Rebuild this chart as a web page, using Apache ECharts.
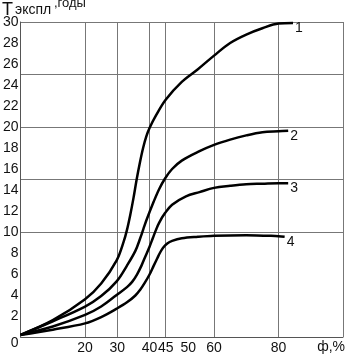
<!DOCTYPE html>
<html>
<head>
<meta charset="utf-8">
<script src="https://cdn.jsdelivr.net/npm/echarts@6/dist/echarts.min.js"></script>
<style>
  html, body { margin: 0; padding: 0; background: #fff; }
  #chart { width: 347px; height: 357px; }
</style>
</head>
<body>
<div id="chart"></div>
<script>
// Service life T (years) against porosity φ (%), curves 1–4
const curve1Phi = [0, 10, 20, 25, 29.8, 32, 33, 34, 35, 36, 37, 38, 39, 40, 42, 45, 50, 55, 60, 65, 70, 75, 80, 84.5];
const curve1T   = [0.2, 1.6, 3.6, 5.1, 7.3, 9.1, 10.2, 11.6, 13.2, 15.0, 16.6, 18.0, 19.1, 19.9, 21.1, 22.6, 24.3, 25.5, 26.8, 28.0, 28.8, 29.4, 29.85, 29.9];

const curve2Phi = [0, 10, 20, 25, 29.8, 33, 35.6, 37.1, 38.1, 39, 41.3, 43, 44.8, 47, 50, 55.5, 60, 65, 70, 75, 80, 83];
const curve2T   = [0.2, 1.5, 2.9, 3.9, 5.3, 6.8, 8.2, 9.4, 10.3, 11.1, 12.9, 14.1, 15.1, 16.0, 16.8, 17.7, 18.3, 18.8, 19.2, 19.5, 19.6, 19.65];

const curve3Phi = [0, 10, 20, 25, 29.8, 33, 34.6, 36.1, 37.5, 38.6, 40, 41, 42, 43, 44.8, 47, 51.3, 55.5, 60, 65, 70, 75, 80, 83];
const curve3T   = [0.2, 1.0, 2.1, 2.9, 4.0, 4.75, 5.25, 5.95, 6.8, 7.6, 8.6, 9.4, 10.2, 10.9, 11.8, 12.6, 13.4, 13.8, 14.2, 14.4, 14.55, 14.6, 14.65, 14.65];

const curve4Phi = [0, 10, 20, 25, 29.8, 33, 35.6, 37.1, 38.5, 40, 41.3, 42.4, 43.2, 44.2, 45.5, 47, 50, 55, 60, 70, 80, 81.9];
const curve4T   = [0.2, 0.7, 1.3, 1.9, 2.7, 3.3, 3.95, 4.5, 5.15, 5.95, 6.8, 7.5, 8.0, 8.5, 8.9, 9.15, 9.4, 9.55, 9.65, 9.7, 9.6, 9.55];

const curveNames = ['1', '2', '3', '4'];

const xTickLabels = [20, 30, 40, 45, 50, 60, 80];
const xGridValues = [20, 30, 40, 45, 60, 80, 100];
const yTickLabels = [0, 2, 4, 6, 8, 10, 12, 14, 16, 18, 20, 22, 24, 26, 28, 30];
const yGridValues = [10, 15, 20, 25, 30];

const FONT = '"Liberation Sans", Arial, sans-serif';

function pairs(xs, ys) { return xs.map((x, i) => [x, ys[i]]); }

const curves = [
  pairs(curve1Phi, curve1T),
  pairs(curve2Phi, curve2T),
  pairs(curve3Phi, curve3T),
  pairs(curve4Phi, curve4T)
];

const chart = echarts.init(document.getElementById('chart'), null, { renderer: 'canvas' });

chart.setOption({
  animation: false,
  backgroundColor: '#fff',
  grid: { left: 20, right: 4, top: 22, bottom: 20, containLabel: false },
  xAxis: {
    type: 'value',
    min: 0,
    max: 100,
    axisLine: { show: true, lineStyle: { color: '#555', width: 1 } },
    axisTick: { show: false, customValues: xGridValues },
    splitLine: { show: true, lineStyle: { color: '#777', width: 1 } },
    axisLabel: {
      customValues: xTickLabels,
      fontFamily: FONT,
      fontSize: 14,
      color: '#111',
      margin: 4,
      formatter: v => (v === 50 ? '{s|50}' : String(v)),
      rich: { s: { fontFamily: FONT, fontSize: 14, color: '#111', padding: [0, 0, 0, 13] } }
    }
  },
  yAxis: {
    type: 'value',
    min: 0,
    max: 30,
    axisLine: { show: true, lineStyle: { color: '#555', width: 1 } },
    axisTick: { show: false, customValues: yGridValues },
    splitLine: { show: true, lineStyle: { color: '#777', width: 1 } },
    axisLabel: {
      customValues: yTickLabels,
      fontFamily: FONT,
      fontSize: 14,
      color: '#111',
      margin: 2,
      formatter: v => (v === 0 ? '{z|0}' : String(v)),
      rich: { z: { fontFamily: FONT, fontSize: 14, color: '#111', padding: [12, 0, 0, 0] } }
    }
  },
  graphic: [
    // axis title: T with subscript "экспл" and raised unit ",годы"
    {
      type: 'text',
      x: 2, y: 10,
      style: { text: 'T', fontFamily: FONT, fontSize: 18, fill: '#111', verticalAlign: 'middle' }
    },
    {
      type: 'text',
      x: 15, y: 10.5,
      style: { text: 'экспл', fontFamily: FONT, fontSize: 14, fill: '#111', verticalAlign: 'middle' }
    },
    {
      type: 'text',
      x: 54, y: 3.5,
      style: { text: ',годы', fontFamily: FONT, fontSize: 13, fill: '#111', verticalAlign: 'middle' }
    },
    {
      type: 'text',
      right: 2,
      bottom: 3,
      style: { text: 'ф,%', fontFamily: FONT, fontSize: 14, fill: '#111' }
    }
  ],
  series: curves.map((data, i) => ({
    name: curveNames[i],
    type: 'line',
    data: data,
    smooth: 0.35,
    showSymbol: false,
    symbol: 'none',
    lineStyle: { color: '#000', width: 2.5 },
    itemStyle: { color: '#000' },
    endLabel: {
      show: true,
      formatter: '{a}',
      fontFamily: FONT,
      fontSize: 14,
      color: '#111',
      distance: 2,
      offset: [0, 5]
    }
  }))
});
</script>
</body>
</html>
